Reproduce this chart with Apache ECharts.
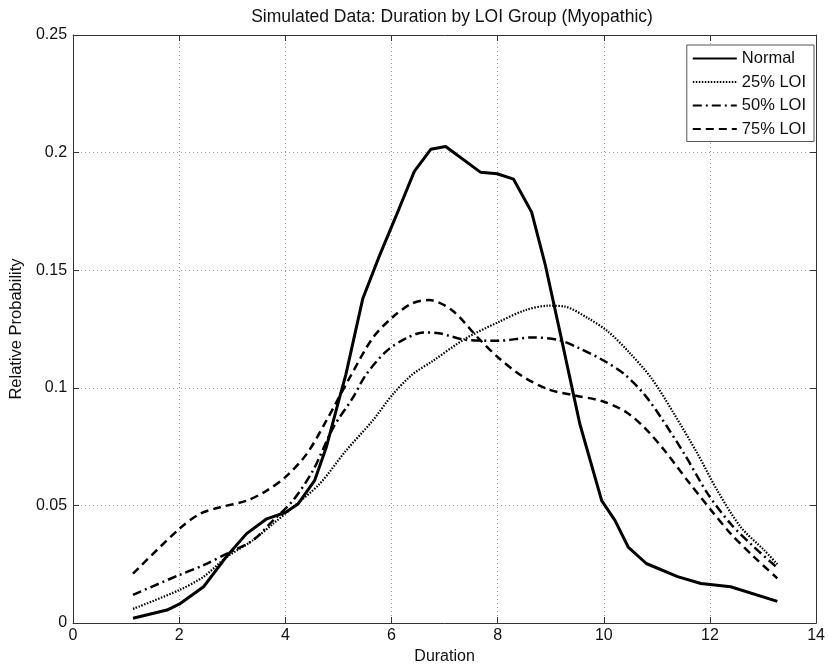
<!DOCTYPE html>
<html>
<head>
<meta charset="utf-8">
<script src="https://cdn.jsdelivr.net/npm/echarts@6/dist/echarts.min.js"></script>
<style>
  html, body { margin: 0; padding: 0; background: #fff; }
  #chart { width: 828px; height: 670px; }
</style>
</head>
<body>
<div id="chart"></div>
<script>
// data (duration, relative probability)
var normalX = [1.13, 1.77, 2.0, 2.46, 2.9, 3.27, 3.65, 4.0, 4.24, 4.55, 4.77, 5.02, 5.14, 5.46, 5.77, 6.14, 6.43, 6.74, 7.02, 7.68, 7.99, 8.3, 8.64, 8.9, 9.2, 9.43, 9.55, 9.96, 10.21, 10.46, 10.8, 11.39, 11.83, 12.39, 13.27];
var normalY = [0.002, 0.0055, 0.008, 0.0154, 0.0285, 0.038, 0.0443, 0.047, 0.0506, 0.0605, 0.0746, 0.0957, 0.1056, 0.138, 0.156, 0.176, 0.192, 0.2014, 0.2026, 0.1916, 0.191, 0.1887, 0.1747, 0.152, 0.121, 0.097, 0.0845, 0.052, 0.0436, 0.0323, 0.0253, 0.0197, 0.0168, 0.0154, 0.0092];

var loi25X = [1.13, 2.0, 2.46, 2.9, 3.39, 3.77, 4.14, 4.64, 5.14, 5.64, 6.02, 6.39, 6.77, 7.4, 8.02, 8.52, 8.96, 9.27, 9.71, 10.08, 10.46, 10.9, 11.33, 11.77, 12.14, 12.58, 13.02, 13.27];
var loi25Y = [0.006, 0.014, 0.0197, 0.0281, 0.0352, 0.0422, 0.0492, 0.059, 0.0732, 0.0859, 0.0971, 0.1056, 0.1113, 0.121, 0.128, 0.133, 0.1349, 0.1345, 0.1295, 0.1239, 0.1155, 0.104, 0.0887, 0.0718, 0.0563, 0.0408, 0.031, 0.025];

var loi50X = [1.13, 2.0, 2.46, 2.9, 3.39, 3.77, 4.14, 4.52, 4.9, 5.27, 5.52, 5.9, 6.27, 6.6, 6.89, 7.4, 8.02, 8.64, 9.14, 9.52, 10.02, 10.4, 10.77, 11.08, 11.52, 11.96, 12.39, 12.83, 13.27];
var loi50Y = [0.012, 0.0204, 0.0246, 0.0295, 0.0352, 0.0436, 0.052, 0.0648, 0.083, 0.0957, 0.1056, 0.1155, 0.121, 0.1235, 0.1232, 0.1204, 0.120, 0.1214, 0.1204, 0.117, 0.1113, 0.1056, 0.097, 0.0873, 0.0718, 0.0549, 0.0422, 0.0323, 0.0235];

var loi75X = [1.13, 2.0, 2.39, 2.77, 3.27, 3.65, 4.0, 4.4, 4.77, 5.21, 5.64, 6.02, 6.39, 6.71, 7.14, 7.64, 8.02, 8.46, 8.96, 9.46, 9.96, 10.4, 10.77, 11.15, 11.58, 12.02, 12.39, 12.83, 13.27];
var loi75Y = [0.021, 0.040, 0.0464, 0.0492, 0.052, 0.0563, 0.062, 0.0718, 0.0859, 0.1042, 0.121, 0.130, 0.1359, 0.1373, 0.1330, 0.121, 0.1127, 0.105, 0.0993, 0.0967, 0.0944, 0.090, 0.083, 0.0732, 0.0605, 0.048, 0.038, 0.0281, 0.019];

var seriesNames = ['Normal', '25% LOI', '50% LOI', '75% LOI'];
var xTicks = { min: 0, max: 14, step: 2 };
var yTicks = { min: 0, max: 0.25, step: 0.05 };

function zip(xs, ys) {
    return xs.map(function (x, i) { return [x, ys[i]]; });
}

var font = 'Liberation Sans, Arial, sans-serif';
var chart = echarts.init(document.getElementById('chart'));

var gridLine = { show: true, lineStyle: { color: '#9a9a9a', type: [1, 3], width: 1 } };
var axisLine = { show: true, onZero: false, lineStyle: { color: '#333', width: 1 } };
var tickIn = { show: true, inside: true, length: 6, lineStyle: { color: '#333' } };

var option = {
    backgroundColor: '#fff',
    animation: false,
    title: {
        text: 'Simulated Data: Duration by LOI Group (Myopathic)',
        left: 447,
        textAlign: 'center',
        top: 3,
        textStyle: { fontFamily: font, fontSize: 17.5, fontWeight: 'normal', color: '#111' }
    },
    grid: { left: 72, right: 10, top: 35, bottom: 44 },
    legend: {
        right: 14,
        top: 45,
        orient: 'vertical',
        align: 'left',
        data: seriesNames,
        itemWidth: 44,
        itemHeight: 15,
        itemGap: 6.5,
        padding: [5, 8, 4, 5],
        borderColor: '#555',
        borderWidth: 1,
        backgroundColor: '#fff',
        itemStyle: { opacity: 0 },
        textStyle: { fontFamily: font, fontSize: 16.5, color: '#111' }
    },
    xAxis: [{
        type: 'value',
        min: xTicks.min, max: xTicks.max, interval: xTicks.step,
        name: 'Duration',
        nameLocation: 'middle',
        nameGap: 26,
        nameTextStyle: { fontFamily: font, fontSize: 16, color: '#111' },
        axisLine: axisLine,
        axisTick: tickIn,
        axisLabel: { fontFamily: font, fontSize: 16, color: '#111', margin: 5 },
        splitLine: gridLine
    }, {
        type: 'value', position: 'top',
        min: xTicks.min, max: xTicks.max, interval: xTicks.step,
        axisLine: axisLine, axisTick: tickIn,
        axisLabel: { show: false }, splitLine: { show: false }
    }],
    yAxis: [{
        type: 'value',
        min: yTicks.min, max: yTicks.max, interval: yTicks.step,
        name: 'Relative Probability',
        nameLocation: 'middle',
        nameGap: 45,
        nameTextStyle: { fontFamily: font, fontSize: 16.5, color: '#111' },
        axisLine: axisLine,
        axisTick: tickIn,
        axisLabel: { fontFamily: font, fontSize: 16, color: '#111', margin: 6 },
        splitLine: gridLine
    }, {
        type: 'value', position: 'right',
        min: yTicks.min, max: yTicks.max, interval: yTicks.step,
        axisLine: axisLine, axisTick: tickIn,
        axisLabel: { show: false }, splitLine: { show: false }
    }],
    series: [
        {
            name: seriesNames[0], type: 'line', symbol: 'none', z: 5,
            data: zip(normalX, normalY),
            lineStyle: { color: '#000', width: 3, type: 'solid' },
            itemStyle: { color: '#000' }
        },
        {
            name: seriesNames[1], type: 'line', symbol: 'none', smooth: 0.3,
            data: zip(loi25X, loi25Y),
            lineStyle: { color: '#000', width: 2.2, type: [1.5, 1.5] },
            itemStyle: { color: '#000' }
        },
        {
            name: seriesNames[2], type: 'line', symbol: 'none', smooth: 0.3,
            data: zip(loi50X, loi50Y),
            lineStyle: { color: '#000', width: 2.5, type: [9, 4, 2, 4] },
            itemStyle: { color: '#000' }
        },
        {
            name: seriesNames[3], type: 'line', symbol: 'none', smooth: 0.3,
            data: zip(loi75X, loi75Y),
            lineStyle: { color: '#000', width: 2.5, type: [8, 5] },
            itemStyle: { color: '#000' }
        }
    ]
};

chart.setOption(option);
</script>
</body>
</html>
